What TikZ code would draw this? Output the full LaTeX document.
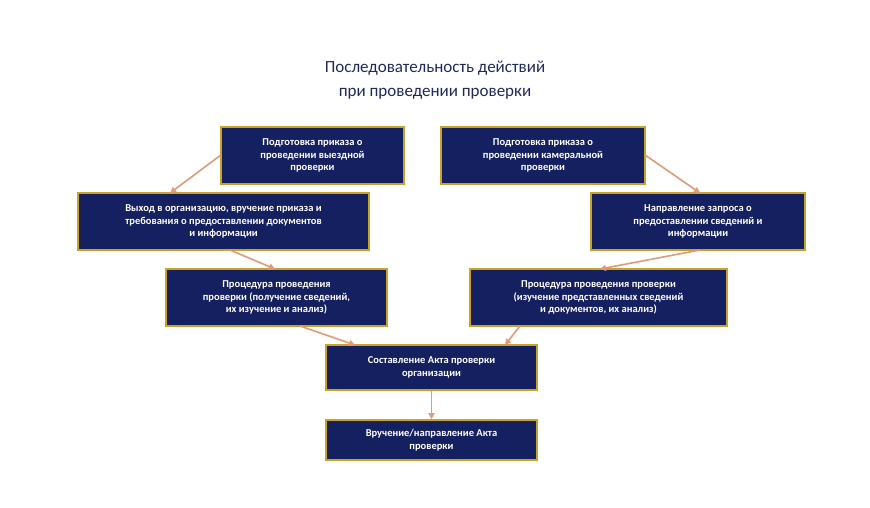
\documentclass[tikz,border=0pt]{standalone}
\usepackage{fontspec}
\setmainfont{Carlito}
\usetikzlibrary{arrows.meta}
\definecolor{navy}{HTML}{142060}
\definecolor{gold}{HTML}{C9A227}
\definecolor{arr}{HTML}{E39A78}
\definecolor{ttl}{HTML}{1F2A5C}
\begin{document}
\begin{tikzpicture}[x=1pt,y=-1pt,
 bx/.style={draw=gold,line width=1.6pt,fill=navy,text=white,font=\bfseries\fontsize{10.5}{12.5}\selectfont,align=center,inner sep=2pt,minimum height=#1},
 bx/.default=57,
 ar/.style={draw=arr,line width=1.6pt,-{Triangle[length=6pt,width=6pt]}}]
\useasboundingbox[fill=white] (0,0) rectangle (870,507);
\node[text=ttl,font=\fontsize{17}{24}\selectfont,align=center] (t) at (435,80) {Последовательность действий\\при проведении проверки};
\node[bx,minimum width=183] (b1) at (312.5,155.5) {Подготовка приказа о\\проведении выездной\\проверки};
\node[bx,minimum width=204] (b2) at (543,155.5) {Подготовка приказа о\\проведении камеральной\\проверки};
\node[bx,minimum width=291] (b3) at (223.5,221.5) {Выход в организацию, вручение приказа и\\требования о предоставлении документов\\и информации};
\node[bx,minimum width=214] (b4) at (698,221.5) {Направление запроса о\\предоставлении сведений и\\информации};
\node[bx,minimum width=221] (b5) at (276.5,297.5) {Процедура проведения\\проверки (получение сведений,\\их изучение и анализ)};
\node[bx,minimum width=257] (b6) at (598.5,297.5) {Процедура проведения проверки\\(изучение представленных сведений\\и документов, их анализ)};
\node[bx=45,minimum width=211] (b7) at (431.5,367.5) {Составление Акта проверки\\организации};
\node[bx=40,minimum width=211] (b8) at (431.5,440) {Вручение/направление Акта\\проверки};
\draw[ar] (b1.west) -- (170,193);
\draw[ar] (b2.east) -- (700,193);
\draw[ar] (230,250) -- (275,269);
\draw[ar] (700,250) -- (600,269);
\draw[ar] (300,326) -- (355,345);
\draw[ar] (520,326) -- (505,345);
\draw[ar] (b7.south) -- (b8.north);
\end{tikzpicture}
\end{document}
